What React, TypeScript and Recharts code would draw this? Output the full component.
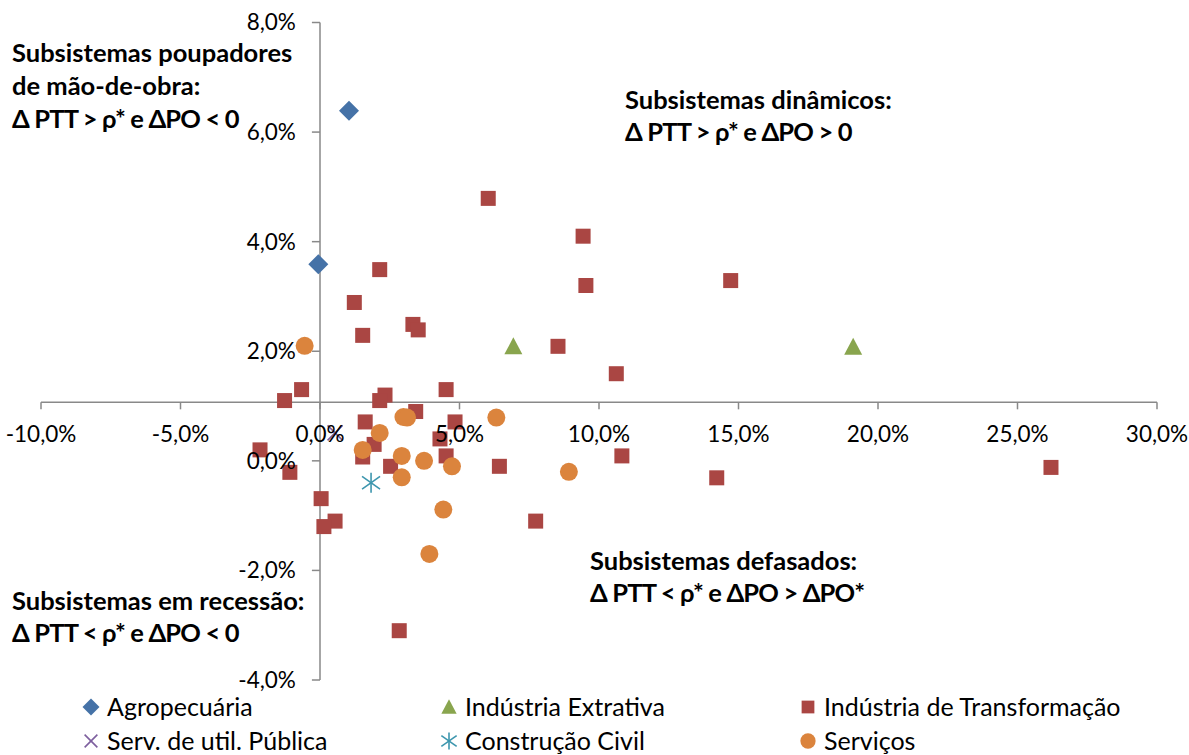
import React from 'react';
import { ScatterChart, Scatter, XAxis, YAxis, ReferenceLine } from 'recharts';

type Pt = { x: number; y: number };

// values (ΔPTT in %, ΔPO in %)
const agropecuaria: Pt[] = [
  { x: 1.04, y: 6.39 },
  { x: -0.06, y: 3.59 },
];

const industriaExtrativa: Pt[] = [
  { x: 6.93, y: 2.09 },
  { x: 19.11, y: 2.08 },
];

const industriaTransformacao: Pt[] = [
  { x: 6.03, y: 4.79 }, { x: 9.43, y: 4.1 }, { x: 9.53, y: 3.2 }, { x: 14.72, y: 3.29 },
  { x: 2.14, y: 3.49 }, { x: 1.23, y: 2.89 }, { x: 1.53, y: 2.29 }, { x: 3.33, y: 2.49 },
  { x: 3.52, y: 2.39 }, { x: 8.53, y: 2.09 }, { x: 10.62, y: 1.59 }, { x: -0.66, y: 1.3 },
  { x: -1.27, y: 1.1 }, { x: 4.52, y: 1.3 }, { x: 2.33, y: 1.2 }, { x: 2.14, y: 1.1 },
  { x: 3.43, y: 0.9 }, { x: 1.62, y: 0.71 }, { x: 4.84, y: 0.71 }, { x: 4.3, y: 0.4 },
  { x: 1.94, y: 0.3 }, { x: 1.53, y: 0.07 }, { x: -2.15, y: 0.2 }, { x: -1.08, y: -0.21 },
  { x: 4.52, y: 0.09 }, { x: 2.53, y: -0.1 }, { x: 6.43, y: -0.1 }, { x: 10.82, y: 0.09 },
  { x: 26.2, y: -0.12 }, { x: 14.22, y: -0.31 }, { x: 7.73, y: -1.1 }, { x: 0.04, y: -0.69 },
  { x: 0.54, y: -1.1 }, { x: 0.14, y: -1.2 }, { x: 2.84, y: -3.1 },
];

const servUtilPublica: Pt[] = [{ x: 0.54, y: 0.51 }];

const construcaoCivil: Pt[] = [{ x: 1.83, y: -0.4 }];

const servicos: Pt[] = [
  { x: -0.55, y: 2.1 }, { x: 2.99, y: 0.8 }, { x: 3.12, y: 0.79 }, { x: 6.32, y: 0.79 },
  { x: 2.14, y: 0.51 }, { x: 1.53, y: 0.2 }, { x: 2.93, y: 0.09 }, { x: 3.73, y: 0.0 },
  { x: 4.73, y: -0.1 }, { x: 2.93, y: -0.3 }, { x: 8.92, y: -0.2 }, { x: 4.42, y: -0.89 },
  { x: 3.92, y: -1.7 },
];

const xTicks = [-10, -5, 0, 5, 10, 15, 20, 25, 30];
const yTicks = [-4, -2, 0, 2, 4, 6, 8];
const xAxisCrossAt = 1.07; // horizontal axis crosses the vertical one here
const yAxisCrossAt = 0;

const FONT = 'Lato, "Open Sans", sans-serif';
const AXIS = '#898989';
const TICK_FONT = 22.5;

const fmtPct = (v: number) => v.toFixed(1).replace('.', ',') + '%';

type ShapeKind = 'diamond' | 'triangle' | 'square' | 'x' | 'star' | 'circle';

const Marker = ({ kind, cx, cy, color, s = 1 }: { kind: ShapeKind; cx: number; cy: number; color: string; s?: number }) => {
  switch (kind) {
    case 'diamond': {
      const r = 10 * s;
      return <path d={`M${cx},${cy - r}L${cx + r},${cy}L${cx},${cy + r}L${cx - r},${cy}Z`} fill={color} />;
    }
    case 'triangle': {
      const w = 9 * s;
      return <path d={`M${cx},${cy - 9 * s}L${cx + w},${cy + 8 * s}L${cx - w},${cy + 8 * s}Z`} fill={color} />;
    }
    case 'square': {
      const h = 7.5 * s;
      return <rect x={cx - h} y={cy - h} width={2 * h} height={2 * h} fill={color} />;
    }
    case 'x': {
      const d = 7.5 * s;
      return (
        <g stroke={color} strokeWidth={1.6}>
          <line x1={cx - d} y1={cy - d} x2={cx + d} y2={cy + d} />
          <line x1={cx - d} y1={cy + d} x2={cx + d} y2={cy - d} />
        </g>
      );
    }
    case 'star': {
      const d = 9 * s;
      const v = 10 * s;
      return (
        <g stroke={color} strokeWidth={1.6}>
          <line x1={cx - d} y1={cy - d * 0.7} x2={cx + d} y2={cy + d * 0.7} />
          <line x1={cx - d} y1={cy + d * 0.7} x2={cx + d} y2={cy - d * 0.7} />
          <line x1={cx} y1={cy - v} x2={cx} y2={cy + v} />
        </g>
      );
    }
    default:
      return <circle cx={cx} cy={cy} r={9 * s} fill={color} />;
  }
};

const series: { name: string; data: Pt[]; color: string; kind: ShapeKind }[] = [
  { name: 'Agropecuária', data: agropecuaria, color: '#4572A7', kind: 'diamond' },
  { name: 'Indústria Extrativa', data: industriaExtrativa, color: '#89A54E', kind: 'triangle' },
  { name: 'Indústria de Transformação', data: industriaTransformacao, color: '#AA4643', kind: 'square' },
  { name: 'Serv. de util. Pública', data: servUtilPublica, color: '#7D5F9E', kind: 'x' },
  { name: 'Construção Civil', data: construcaoCivil, color: '#3D96AE', kind: 'star' },
  { name: 'Serviços', data: servicos, color: '#DB843D', kind: 'circle' },
];

const annotations = [
  { x: 12, y: 62, gap: 33, lines: ['Subsistemas poupadores', 'de mão-de-obra:', 'Δ PTT > ρ* e ΔPO < 0'] },
  { x: 625, y: 109, gap: 31.5, lines: ['Subsistemas dinâmicos:', 'Δ PTT > ρ* e ΔPO > 0'] },
  { x: 590, y: 570, gap: 31.5, lines: ['Subsistemas defasados:', 'Δ PTT < ρ* e ΔPO > ΔPO*'] },
  { x: 12, y: 610, gap: 31.5, lines: ['Subsistemas em recessão:', 'Δ PTT < ρ* e ΔPO < 0'] },
];

const legendCols = [79, 437, 796];
const legendRows = [707, 741];

export default function App() {
  return (
    <div style={{ position: 'absolute', left: 0, top: 0, width: 1189, height: 755, background: '#fff', overflow: 'hidden' }}>
      <ScatterChart width={1189} height={755} margin={{ top: 22.5, right: 32, bottom: 75, left: 41 }}>
        <XAxis type="number" dataKey="x" domain={[-10, 30]} ticks={xTicks} allowDataOverflow hide />
        <YAxis type="number" dataKey="y" domain={[-4, 8]} ticks={yTicks} allowDataOverflow hide />

        <ReferenceLine y={xAxisCrossAt} stroke={AXIS} strokeWidth={1.5} />
        <ReferenceLine x={yAxisCrossAt} stroke={AXIS} strokeWidth={1.5} />
        {xTicks.map((v) => (
          <ReferenceLine
            key={'xt' + v}
            segment={[{ x: v, y: xAxisCrossAt }, { x: v, y: xAxisCrossAt - 0.13 }]}
            stroke={AXIS}
            strokeWidth={1.5}
            label={{ value: fmtPct(v), position: 'bottom', offset: 17, fill: '#000', fontSize: TICK_FONT, fontFamily: FONT }}
          />
        ))}
        {yTicks.map((v) => (
          <ReferenceLine
            key={'yt' + v}
            segment={[{ x: yAxisCrossAt - 0.29, y: v }, { x: yAxisCrossAt, y: v }]}
            stroke={AXIS}
            strokeWidth={1.5}
            label={{ value: fmtPct(v), position: 'left', offset: 16, fill: '#000', fontSize: TICK_FONT, fontFamily: FONT }}
          />
        ))}

        {series.map((s) => (
          <Scatter
            key={s.name}
            name={s.name}
            data={s.data}
            fill={s.color}
            isAnimationActive={false}
            shape={(p: any) => <Marker kind={s.kind} cx={p.cx} cy={p.cy} color={s.color} />}
          />
        ))}
      </ScatterChart>

      <svg width={1189} height={755} style={{ position: 'absolute', left: 0, top: 0, pointerEvents: 'none' }}>
        {annotations.map((a, i) => (
          <text key={i} x={a.x} y={a.y} fontFamily={FONT} fontWeight="bold" fontSize={25.5} fill="#000">
            {a.lines.map((l, j) => (
              <tspan
                key={j}
                x={a.x}
                dy={j === 0 ? 0 : a.gap}
                letterSpacing={l.startsWith('Δ') ? -0.85 : 0}
              >
                {l}
              </tspan>
            ))}
          </text>
        ))}

        {series.map((s, i) => {
          const cx = legendCols[i % 3] + 12;
          const cy = legendRows[Math.floor(i / 3)];
          return (
            <g key={s.name}>
              <Marker kind={s.kind} cx={cx} cy={cy} color={s.color} s={0.85} />
              <text x={cx + 16} y={cy + 8.5} fontFamily={FONT} fontSize={25} fill="#000">
                {s.name}
              </text>
            </g>
          );
        })}
      </svg>
    </div>
  );
}
